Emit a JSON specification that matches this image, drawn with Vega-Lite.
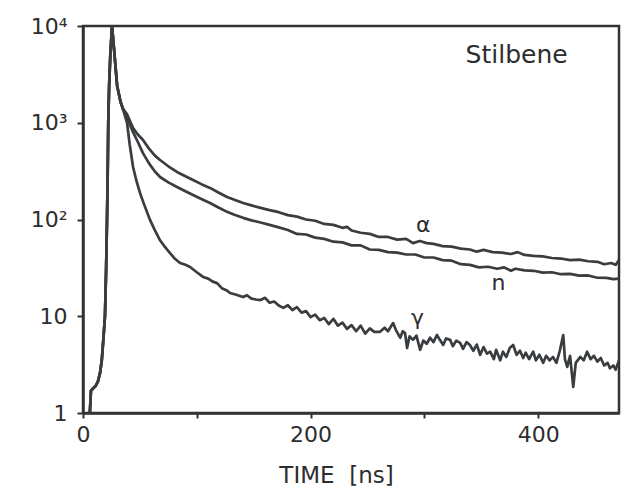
{
  "$schema": "https://vega.github.io/schema/vega-lite/v6.json",
  "width": 536,
  "height": 387,
  "autosize": {"type": "none"},
  "padding": {"left": 83, "top": 26, "right": 4, "bottom": 79},
  "background": "white",
  "config": {
    "view": {"stroke": "#333333", "strokeWidth": 2.5},
    "font": "DejaVu Sans"
  },
  "datasets": {
    "curves": [
      {"s":"α","t":6,"v":1.0},{"s":"α","t":7,"v":1.7},{"s":"α","t":9,"v":1.8},{"s":"α","t":11,"v":1.9},{"s":"α","t":13,"v":2.1},{"s":"α","t":15,"v":2.6},{"s":"α","t":16.5,"v":3.5},{"s":"α","t":18,"v":6},{"s":"α","t":19.3,"v":10},{"s":"α","t":20.3,"v":30},{"s":"α","t":21.1,"v":100},{"s":"α","t":21.7,"v":300},{"s":"α","t":22.2,"v":1000},{"s":"α","t":23,"v":2500},{"s":"α","t":24,"v":5000},{"s":"α","t":25.5,"v":10000},{"s":"α","t":27,"v":6300},{"s":"α","t":30,"v":2400},{"s":"α","t":33,"v":1650},{"s":"α","t":35,"v":1400},
      {"s":"α","t":38.7,"v":1220},{"s":"α","t":44,"v":880},{"s":"α","t":48,"v":760},{"s":"α","t":52.7,"v":664},{"s":"α","t":58,"v":540},{"s":"α","t":63,"v":460},{"s":"α","t":67.7,"v":412},{"s":"α","t":75,"v":355},{"s":"α","t":82.6,"v":310},{"s":"α","t":90,"v":280},{"s":"α","t":96.7,"v":256},{"s":"α","t":104,"v":232},{"s":"α","t":111.6,"v":212},{"s":"α","t":119,"v":190},{"s":"α","t":126.6,"v":171},{"s":"α","t":133,"v":160},{"s":"α","t":140.7,"v":148},{"s":"α","t":148,"v":140},{"s":"α","t":156,"v":132},{"s":"α","t":164,"v":125},
      {"s":"α","t":172,"v":119},{"s":"α","t":180,"v":111},{"s":"α","t":188,"v":107},{"s":"α","t":196,"v":100},{"s":"α","t":204,"v":97},{"s":"α","t":212,"v":90},{"s":"α","t":220,"v":88},{"s":"α","t":228,"v":82},{"s":"α","t":232,"v":84},{"s":"α","t":236,"v":77},{"s":"α","t":244,"v":73},{"s":"α","t":252,"v":71},{"s":"α","t":260,"v":66},{"s":"α","t":268,"v":66},{"s":"α","t":276,"v":62},{"s":"α","t":284,"v":63},{"s":"α","t":290,"v":57},{"s":"α","t":296,"v":60},{"s":"α","t":302,"v":57},{"s":"α","t":308,"v":56},{"s":"α","t":316,"v":53},{"s":"α","t":324,"v":52.5},{"s":"α","t":332,"v":50},{"s":"α","t":340,"v":49},{"s":"α","t":346,"v":46.5},{"s":"α","t":352,"v":48.5},{"s":"α","t":360,"v":46},{"s":"α","t":368,"v":45.5},{"s":"α","t":376,"v":44},{"s":"α","t":382,"v":46},{"s":"α","t":388,"v":43},{"s":"α","t":396,"v":42},{"s":"α","t":404,"v":41.5},{"s":"α","t":412,"v":40},{"s":"α","t":420,"v":39.5},{"s":"α","t":428,"v":38},{"s":"α","t":436,"v":38.5},{"s":"α","t":444,"v":37},{"s":"α","t":452,"v":36.5},{"s":"α","t":458,"v":34.5},{"s":"α","t":464,"v":35.5},{"s":"α","t":468,"v":34},{"s":"α","t":471,"v":38},

      {"s":"n","t":6,"v":1.0},{"s":"n","t":7,"v":1.7},{"s":"n","t":9,"v":1.8},{"s":"n","t":11,"v":1.9},{"s":"n","t":13,"v":2.1},{"s":"n","t":15,"v":2.6},{"s":"n","t":16.5,"v":3.5},{"s":"n","t":18,"v":6},{"s":"n","t":19.3,"v":10},{"s":"n","t":20.3,"v":30},{"s":"n","t":21.1,"v":100},{"s":"n","t":21.7,"v":300},{"s":"n","t":22.2,"v":1000},{"s":"n","t":23,"v":2500},{"s":"n","t":24,"v":5000},{"s":"n","t":25.5,"v":10000},{"s":"n","t":27,"v":6300},{"s":"n","t":30,"v":2400},{"s":"n","t":33,"v":1650},{"s":"n","t":35,"v":1400},
      {"s":"n","t":38.7,"v":1120},{"s":"n","t":41.3,"v":950},{"s":"n","t":44,"v":800},{"s":"n","t":48,"v":640},{"s":"n","t":52.7,"v":486},{"s":"n","t":58,"v":380},{"s":"n","t":63,"v":315},{"s":"n","t":67.7,"v":275},{"s":"n","t":75,"v":242},{"s":"n","t":82.6,"v":217},{"s":"n","t":90,"v":196},{"s":"n","t":96.7,"v":179},{"s":"n","t":104,"v":163},{"s":"n","t":111.6,"v":148},{"s":"n","t":119,"v":133},{"s":"n","t":126.6,"v":120},{"s":"n","t":133,"v":112},{"s":"n","t":140.7,"v":104},{"s":"n","t":148,"v":98},{"s":"n","t":156,"v":93},{"s":"n","t":164,"v":88},
      {"s":"n","t":172,"v":83},{"s":"n","t":180,"v":78},{"s":"n","t":188,"v":71},{"s":"n","t":196,"v":70},{"s":"n","t":204,"v":65},{"s":"n","t":212,"v":63},{"s":"n","t":220,"v":59},{"s":"n","t":228,"v":58},{"s":"n","t":236,"v":54},{"s":"n","t":244,"v":54},{"s":"n","t":252,"v":49},{"s":"n","t":260,"v":48.5},{"s":"n","t":268,"v":46},{"s":"n","t":276,"v":45.5},{"s":"n","t":284,"v":43.5},{"s":"n","t":292,"v":43.5},{"s":"n","t":300,"v":40.5},{"s":"n","t":308,"v":40.5},{"s":"n","t":316,"v":38},{"s":"n","t":324,"v":37.5},{"s":"n","t":332,"v":34.5},{"s":"n","t":340,"v":34},{"s":"n","t":348,"v":32},{"s":"n","t":356,"v":32.5},{"s":"n","t":364,"v":31},{"s":"n","t":370,"v":32},{"s":"n","t":376,"v":29.5},{"s":"n","t":380,"v":31},{"s":"n","t":388,"v":29.8},{"s":"n","t":396,"v":29.5},{"s":"n","t":404,"v":28.2},{"s":"n","t":412,"v":28.5},{"s":"n","t":420,"v":27.2},{"s":"n","t":428,"v":27.4},{"s":"n","t":436,"v":26.3},{"s":"n","t":444,"v":26.4},{"s":"n","t":452,"v":25},{"s":"n","t":460,"v":24.9},{"s":"n","t":466,"v":24.2},{"s":"n","t":471,"v":24.5},

      {"s":"γ","t":6,"v":1.0},{"s":"γ","t":7,"v":1.7},{"s":"γ","t":9,"v":1.8},{"s":"γ","t":11,"v":1.9},{"s":"γ","t":13,"v":2.1},{"s":"γ","t":15,"v":2.6},{"s":"γ","t":16.5,"v":3.5},{"s":"γ","t":18,"v":6},{"s":"γ","t":19.3,"v":10},{"s":"γ","t":20.3,"v":30},{"s":"γ","t":21.1,"v":100},{"s":"γ","t":21.7,"v":300},{"s":"γ","t":22.2,"v":1000},{"s":"γ","t":23,"v":2500},{"s":"γ","t":24,"v":5000},{"s":"γ","t":25.5,"v":10000},{"s":"γ","t":27,"v":6300},{"s":"γ","t":30,"v":2400},{"s":"γ","t":33,"v":1650},{"s":"γ","t":35,"v":1400},
      {"s":"γ","t":38.7,"v":1000},{"s":"γ","t":41,"v":600},{"s":"γ","t":44,"v":349},{"s":"γ","t":47,"v":250},{"s":"γ","t":50.1,"v":188},{"s":"γ","t":54,"v":140},{"s":"γ","t":58.9,"v":99},{"s":"γ","t":63,"v":78},{"s":"γ","t":67.7,"v":61},{"s":"γ","t":72,"v":52},{"s":"γ","t":76.5,"v":45},{"s":"γ","t":81,"v":39},{"s":"γ","t":85.3,"v":35.5},{"s":"γ","t":90,"v":34},{"s":"γ","t":94.1,"v":32.3},{"s":"γ","t":100,"v":28.5},{"s":"γ","t":105.5,"v":25.5},{"s":"γ","t":110,"v":24.5},{"s":"γ","t":114,"v":22.8},{"s":"γ","t":117.8,"v":22},{"s":"γ","t":122,"v":19.5},{"s":"γ","t":126,"v":18.6},{"s":"γ","t":129.2,"v":17.4},{"s":"γ","t":134,"v":16.8},{"s":"γ","t":140.7,"v":15.8},
      {"s":"γ","t":144,"v":16.5},{"s":"γ","t":148,"v":15.2},{"s":"γ","t":152,"v":14.9},{"s":"γ","t":156,"v":14.7},{"s":"γ","t":160,"v":15.5},{"s":"γ","t":164,"v":13.8},{"s":"γ","t":168,"v":14.2},{"s":"γ","t":172,"v":12.9},{"s":"γ","t":176,"v":12.2},{"s":"γ","t":180,"v":13.0},{"s":"γ","t":184,"v":11.6},{"s":"γ","t":188,"v":12.4},{"s":"γ","t":192,"v":10.9},{"s":"γ","t":196,"v":11.3},{"s":"γ","t":200,"v":9.8},{"s":"γ","t":204,"v":10.4},{"s":"γ","t":208,"v":9.1},{"s":"γ","t":212,"v":9.6},{"s":"γ","t":216,"v":8.3},{"s":"γ","t":220,"v":9.4},{"s":"γ","t":224,"v":8.0},{"s":"γ","t":228,"v":8.6},{"s":"γ","t":232,"v":7.4},{"s":"γ","t":236,"v":8.1},{"s":"γ","t":240,"v":7.0},
      {"s":"γ","t":244,"v":8.0},{"s":"γ","t":248,"v":6.6},{"s":"γ","t":252,"v":7.5},{"s":"γ","t":256,"v":6.9},{"s":"γ","t":261,"v":6.9},{"s":"γ","t":265,"v":7.6},{"s":"γ","t":268,"v":7.0},{"s":"γ","t":272.5,"v":8.5},{"s":"γ","t":275,"v":7.2},{"s":"γ","t":278.7,"v":6.0},{"s":"γ","t":281,"v":7.0},{"s":"γ","t":283,"v":6.7},{"s":"γ","t":284.8,"v":4.7},{"s":"γ","t":287,"v":6.2},{"s":"γ","t":290,"v":5.7},{"s":"γ","t":293,"v":6.3},{"s":"γ","t":296.3,"v":4.5},{"s":"γ","t":299,"v":5.6},{"s":"γ","t":302,"v":5.2},{"s":"γ","t":305,"v":6.0},{"s":"γ","t":308,"v":5.4},{"s":"γ","t":311,"v":6.4},{"s":"γ","t":314,"v":5.6},{"s":"γ","t":316.5,"v":5.05},{"s":"γ","t":319,"v":5.9},{"s":"γ","t":322.6,"v":5.7},{"s":"γ","t":325,"v":4.9},{"s":"γ","t":328,"v":5.6},{"s":"γ","t":331.4,"v":5.3},{"s":"γ","t":334,"v":4.6},{"s":"γ","t":337,"v":5.4},{"s":"γ","t":340,"v":5.05},{"s":"γ","t":343,"v":4.4},{"s":"γ","t":346,"v":5.1},{"s":"γ","t":349,"v":4.0},{"s":"γ","t":352,"v":4.8},{"s":"γ","t":355,"v":4.1},{"s":"γ","t":357.8,"v":4.3},{"s":"γ","t":361,"v":3.6},{"s":"γ","t":363,"v":4.5},{"s":"γ","t":366.6,"v":3.5},{"s":"γ","t":369,"v":4.3},{"s":"γ","t":372,"v":3.8},{"s":"γ","t":375,"v":4.7},{"s":"γ","t":378,"v":5.05},{"s":"γ","t":381,"v":4.0},{"s":"γ","t":384,"v":4.4},{"s":"γ","t":386.8,"v":3.7},{"s":"γ","t":389,"v":4.2},{"s":"γ","t":392,"v":3.6},{"s":"γ","t":395.6,"v":4.3},{"s":"γ","t":398,"v":3.5},{"s":"γ","t":401,"v":4.0},{"s":"γ","t":404.4,"v":3.3},{"s":"γ","t":407,"v":3.9},{"s":"γ","t":410,"v":3.5},{"s":"γ","t":413,"v":3.8},{"s":"γ","t":416,"v":3.3},{"s":"γ","t":419,"v":4.4},{"s":"γ","t":422,"v":6.4},{"s":"γ","t":423.5,"v":3.6},{"s":"γ","t":425.5,"v":3.0},{"s":"γ","t":428,"v":3.9},{"s":"γ","t":430.8,"v":1.86},{"s":"γ","t":433,"v":3.3},{"s":"γ","t":437,"v":3.8},{"s":"γ","t":440,"v":3.5},{"s":"γ","t":443,"v":4.3},{"s":"γ","t":446,"v":3.6},{"s":"γ","t":449,"v":3.9},{"s":"γ","t":452,"v":3.4},{"s":"γ","t":455,"v":3.7},{"s":"γ","t":458,"v":3.1},{"s":"γ","t":461,"v":3.3},{"s":"γ","t":463,"v":2.9},{"s":"γ","t":466,"v":3.1},{"s":"γ","t":468,"v":2.8},{"s":"γ","t":471,"v":3.5}
    ],
    "greek": [
      {"label": "α", "t": 299, "v": 88},
      {"label": "n", "t": 365, "v": 22},
      {"label": "γ", "t": 294, "v": 9.6}
    ],
    "title": [
      {"label": "Stilbene", "t": 381, "v": 5000}
    ]
  },
  "layer": [
    {
      "data": {"name": "curves"},
      "mark": {"type": "line", "color": "#3a3d40", "strokeWidth": 2.7, "clip": true, "strokeJoin": "round"},
      "encoding": {
        "x": {
          "field": "t", "type": "quantitative",
          "scale": {"domain": [0, 471], "nice": false, "zero": false},
          "axis": {
            "values": [0, 100, 200, 300, 400],
            "labelExpr": "datum.value % 200 === 0 ? datum.label : ''",
            "labelFlush": false,
            "labelFont": "DejaVu Sans", "labelFontSize": 22, "labelColor": "#2d2d2d", "labelPadding": 6,
            "tickSize": 5, "tickWidth": 2, "tickColor": "#333333",
            "domainWidth": 2.5, "domainColor": "#333333",
            "grid": false,
            "title": "TIME\u00a0 [ns]",
            "titleFont": "DejaVu Sans", "titleFontSize": 23, "titleFontWeight": "normal", "titleColor": "#2d2d2d",
            "titleX": 253, "titleY": 69, "titleBaseline": "alphabetic", "titleAnchor": "middle"
          }
        },
        "y": {
          "field": "v", "type": "quantitative",
          "scale": {"type": "log", "domain": [1, 10000], "nice": false},
          "axis": {
            "values": [1, 10, 100, 1000, 10000],
            "labelExpr": "datum.value >= 9999 ? '10⁴\u2002\u00a0' : datum.value >= 999 ? '10³\u2002\u00a0' : datum.value >= 99 ? '10²\u2002\u00a0' : datum.value >= 9 ? '10' : '1'",
            "labelFont": "DejaVu Sans", "labelFontSize": 22, "labelColor": "#2d2d2d", "labelPadding": 10,
            "labelFlush": false, "labelOverlap": false,
            "tickSize": 6, "tickWidth": 2, "tickColor": "#333333",
            "domainWidth": 2.5, "domainColor": "#333333",
            "grid": false,
            "title": null
          }
        },
        "detail": {"field": "s"}
      }
    },
    {
      "data": {"name": "greek"},
      "mark": {"type": "text", "font": "DejaVu Sans", "fontSize": 22, "color": "#2d2d2d", "align": "center", "baseline": "middle"},
      "encoding": {
        "x": {"field": "t", "type": "quantitative"},
        "y": {"field": "v", "type": "quantitative"},
        "text": {"field": "label"}
      }
    },
    {
      "data": {"name": "title"},
      "mark": {"type": "text", "font": "DejaVu Sans", "fontSize": 25, "color": "#2d2d2d", "align": "center", "baseline": "middle"},
      "encoding": {
        "x": {"field": "t", "type": "quantitative"},
        "y": {"field": "v", "type": "quantitative"},
        "text": {"field": "label"}
      }
    }
  ]
}
